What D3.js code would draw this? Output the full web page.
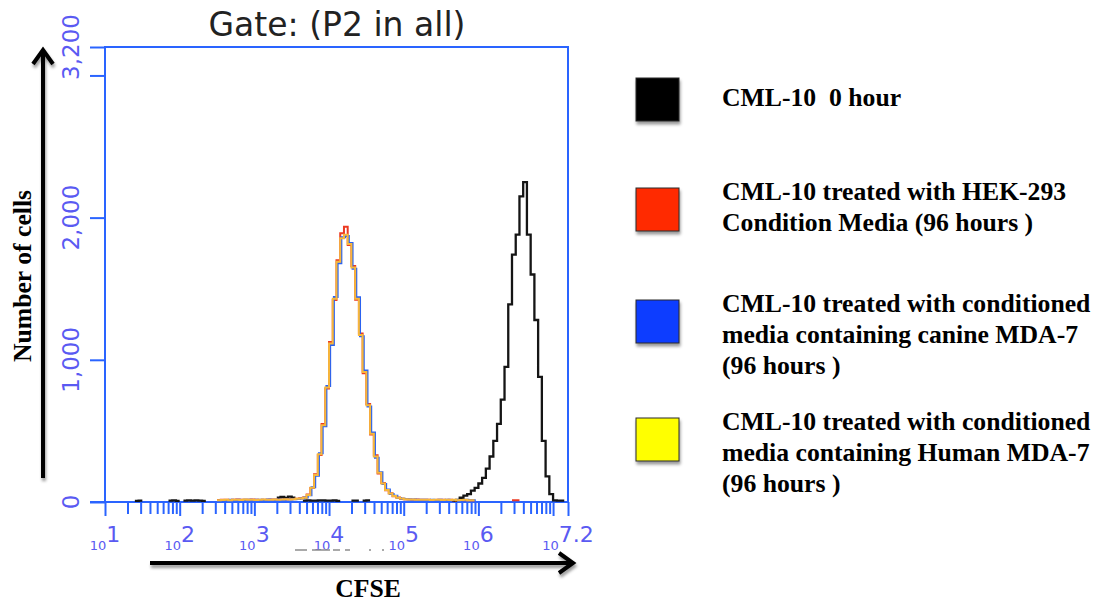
<!DOCTYPE html>
<html>
<head>
<meta charset="utf-8">
<script src="https://cdn.jsdelivr.net/npm/d3@7"></script>
<style>
  body { margin: 0; background: #fff; }
  .leg { white-space: pre; }
</style>
</head>
<body>
<div id="chart"></div>
<script>
// histogram bins are 0.05 decades wide, start = log10 of first bin edge
var binWidth = 0.05;

var cml0Start = 1.40;
var cml0Counts = [
  8, 10, 0, 0, 0, 0, 0, 0, 0, 9,
  11, 8, 0, 10, 12, 10, 11, 9, 8, 0,
  0, 0, 0, 0, 0, 0, 0, 0, 0, 0,
  0, 0, 0, 0, 0, 0, 0, 0, 30, 35,
  28, 38, 30, 0, 0, 10, 12, 9, 10, 11,
  12, 10, 9, 11, 8, 0, 0, 0, 9, 10,
  0, 9, 11, 0, 0, 0, 0, 0, 0, 0,
  0, 0, 0, 0, 0, 0, 0, 0, 0, 0,
  0, 0, 0, 0, 0, 8, 15, 30, 45, 55,
  80, 100, 130, 170, 235, 320, 430, 550, 720, 950,
  1390, 1740, 1880, 2150, 2250, 1880, 1600, 1280, 880, 430,
  180, 55, 12, 10, 9, 0
];

var hekStart = 2.50;
var hekCounts = [
  14, 15, 16, 14, 15, 17, 15, 16, 15, 17, 16, 14, 16, 15, 17, 17, 15, 18, 17, 19,
  21, 23, 26, 31, 52, 98, 195, 330, 548, 798, 1125, 1420, 1700, 1890, 1935,
  1808, 1660, 1422, 1185, 905, 690, 475, 328, 200, 134, 82, 62, 40, 31, 23,
  19, 18, 16, 17, 15, 15, 16, 14, 14, 15, 15, 14, 15, 13, 14, 14, 13, 12, 10, 0,
  0, 0, 0, 0, 0, 0, 0, 0, 0, 12, 12, 0
];

var canineStart = 2.515;
var canineCounts = [
  10, 13, 14, 15, 14, 16, 13, 15, 16, 14, 15, 16, 14, 17, 15, 16, 18, 16, 18, 17,
  19, 21, 24, 32, 48, 104, 185, 342, 532, 815, 1105, 1442, 1680, 1862, 1870,
  1822, 1640, 1440, 1165, 925, 672, 488, 312, 210, 126, 88, 56, 44, 28, 22,
  19, 17, 18, 15, 16, 15, 14, 15, 13, 15, 14, 16, 13, 14, 14, 13, 15, 12, 12
];

var humanStart = 2.50;
var humanCounts = [
  12, 14, 15, 13, 16, 15, 14, 17, 15, 16, 14, 15, 17, 16, 15, 18, 16, 17, 19, 18,
  20, 22, 25, 30, 50, 100, 190, 335, 540, 805, 1115, 1430, 1690, 1855, 1880,
  1815, 1650, 1430, 1175, 915, 680, 480, 320, 205, 130, 85, 60, 42, 30, 24,
  20, 18, 17, 16, 15, 16, 15, 14, 15, 16, 14, 15, 14, 15, 13, 14, 15, 13, 12
];

var yTicks = [0, 1000, 2000, 3000, 3200];
var yTickLabels = ["0", "1,000", "2,000", "", "3,200"];
var xLabelExps = [1, 2, 3, 4, 5, 6, 7.2];

var legendLabels = [
  ["CML-10  0 hour"],
  ["CML-10 treated with HEK-293", "Condition Media (96 hours )"],
  ["CML-10 treated with conditioned", "media containing canine MDA-7", "(96 hours )"],
  ["CML-10 treated with conditioned", "media containing Human MDA-7", "(96 hours )"]
];
var legendColors = ["#000000", "#ff2a00", "#0a3cff", "#ffff00"];

var series = [
  {start: cml0Start, counts: cml0Counts, color: "#151515", w: 2.3},
  {start: hekStart, counts: hekCounts, color: "#ec3a22", w: 2},
  {start: canineStart, counts: canineCounts, color: "#2a62f0", w: 2},
  {start: humanStart, counts: humanCounts, color: "#f6b73c", w: 2}
];

var width = 1099, height = 602;
var axisBlue = "#2a64ff", labelBlue = "#5a5af2";

var svg = d3.select("#chart").append("svg")
    .attr("width", width)
    .attr("height", height);

var defs = svg.append("defs");
defs.append("filter").attr("id", "shadow")
    .attr("x", "-30%").attr("y", "-30%").attr("width", "160%").attr("height", "160%")
  .append("feDropShadow")
    .attr("dx", 1).attr("dy", 3).attr("stdDeviation", 1.6)
    .attr("flood-color", "#000").attr("flood-opacity", 0.4);

var plot = {left: 105, right: 568, top: 47, bottom: 502};

var x = d3.scaleLog()
    .domain([10, Math.pow(10, 7.2)])
    .range([plot.left, plot.right]);

var y = d3.scaleLinear()
    .domain([0, 3200])
    .range([plot.bottom, plot.top]);

// title
svg.append("text")
    .attr("x", 337).attr("y", 36)
    .attr("text-anchor", "middle")
    .style("font-family", "DejaVu Sans")
    .style("font-size", "33px")
    .attr("fill", "#222")
    .text("Gate: (P2 in all)");

// frame
svg.append("rect")
    .attr("x", plot.left).attr("y", plot.top)
    .attr("width", plot.right - plot.left)
    .attr("height", plot.bottom - plot.top)
    .attr("fill", "none")
    .attr("stroke", axisBlue)
    .attr("stroke-width", 2);

function styleTicks(g) {
  g.select(".domain").remove();
  g.selectAll(".tick line").attr("stroke", axisBlue).attr("stroke-width", 2);
  g.selectAll(".tick text").remove();
}

svg.append("g")
    .attr("transform", "translate(" + plot.left + ",0)")
    .call(d3.axisLeft(y).tickValues(yTicks).tickSize(15).tickFormat(""))
    .call(styleTicks);

var majors = [], minors = [];
for (var k = 1; k <= 7; k++) {
  majors.push(Math.pow(10, k));
  if (k < 7) for (var m = 2; m <= 9; m++) minors.push(m * Math.pow(10, k));
}
majors.push(Math.pow(10, 7.2));

svg.append("g")
    .attr("transform", "translate(0," + plot.bottom + ")")
    .call(d3.axisBottom(x).tickValues(majors).tickSize(14).tickFormat(""))
    .call(styleTicks);

svg.append("g")
    .attr("transform", "translate(0," + plot.bottom + ")")
    .call(d3.axisBottom(x).tickValues(minors).tickSize(12).tickFormat(""))
    .call(styleTicks);

// baseline line across the zero tick
svg.append("line")
    .attr("x1", plot.left - 15).attr("x2", plot.right)
    .attr("y1", y(0)).attr("y2", y(0))
    .attr("stroke", axisBlue).attr("stroke-width", 2);

// y tick labels (rotated)
svg.selectAll(".ylab")
    .data(yTicks)
  .enter().append("text")
    .attr("class", "ylab")
    .attr("transform", function(d) { return "translate(79," + y(d) + ") rotate(-90)"; })
    .attr("text-anchor", "middle")
    .style("font-family", "DejaVu Sans")
    .style("font-size", "23px")
    .attr("fill", labelBlue)
    .text(function(d, i) { return yTickLabels[i]; });

// x tick labels: small "10" with big exponent
var xl = svg.selectAll(".xlab")
    .data(xLabelExps)
  .enter().append("text")
    .attr("class", "xlab")
    .attr("x", function(d) { return x(Math.pow(10, d)); })
    .attr("y", 550)
    .attr("text-anchor", "middle")
    .style("font-family", "DejaVu Sans")
    .attr("fill", labelBlue);
xl.append("tspan").style("font-size", "13px").text("10");
xl.append("tspan").style("font-size", "22px").attr("dy", -8).text(function(d) { return d; });

// faint scan artifact under 10^4
[[295, 307], [312, 330], [333, 340], [345, 350], [369, 371], [382, 384]].forEach(function(s) {
  svg.append("line")
      .attr("x1", s[0]).attr("x2", s[1]).attr("y1", 550).attr("y2", 550)
      .attr("stroke", "#8d8d8d").attr("stroke-width", 1.5);
});

// histograms
function histPoints(start, counts) {
  var pts = [];
  counts.forEach(function(c, i) {
    var a = start + i * binWidth;
    pts.push([a, c]);
    pts.push([a + binWidth, c]);
  });
  return pts;
}

var line = d3.line()
    .defined(function(d) { return d[1] > 0; })
    .x(function(d) { return x(Math.pow(10, d[0])); })
    .y(function(d) { return y(d[1]); });

svg.append("g")
  .selectAll("path")
    .data(series)
  .enter().append("path")
    .attr("d", function(d) { return line(histPoints(d.start, d.counts)); })
    .attr("fill", "none")
    .attr("stroke", function(d) { return d.color; })
    .attr("stroke-width", function(d) { return d.w; });

// arrows
var arrows = svg.append("g")
    .attr("stroke", "#000")
    .attr("stroke-width", 4)
    .attr("fill", "none")
    .attr("filter", "url(#shadow)");

arrows.append("line").attr("x1", 43).attr("y1", 478).attr("x2", 43).attr("y2", 50);
arrows.append("polyline").attr("points", "33,64 43,50 53,64");
arrows.append("line").attr("x1", 150).attr("y1", 563).attr("x2", 572).attr("y2", 563);
arrows.append("polyline").attr("points", "559,553 573,563 559,573");

svg.append("text")
    .attr("transform", "translate(31,276) rotate(-90)")
    .attr("text-anchor", "middle")
    .style("font-family", "Liberation Serif")
    .style("font-weight", "bold")
    .style("font-size", "25.7px")
    .text("Number of cells");

svg.append("text")
    .attr("x", 368).attr("y", 597)
    .attr("text-anchor", "middle")
    .style("font-family", "Liberation Serif")
    .style("font-weight", "bold")
    .style("font-size", "25.7px")
    .text("CFSE");

// legend
var legendTops = [78, 188, 300, 418];
var legend = svg.append("g");

legendLabels.forEach(function(lines, i) {
  var top = legendTops[i];
  legend.append("rect")
      .attr("x", 636).attr("y", top)
      .attr("width", 43).attr("height", 43)
      .attr("fill", legendColors[i])
      .attr("stroke", "#2a2a2a")
      .attr("stroke-width", 1)
      .attr("filter", "url(#shadow)");
  var first = lines.length == 1 ? top + 28 : top + 12;
  lines.forEach(function(t, j) {
    legend.append("text")
        .attr("class", "leg")
        .attr("x", 722)
        .attr("y", first + j * 31)
        .style("font-family", "Liberation Serif")
        .style("font-weight", "bold")
        .style("font-size", "25.7px")
        .attr("fill", "#000")
        .text(t);
  });
});
</script>
</body>
</html>
